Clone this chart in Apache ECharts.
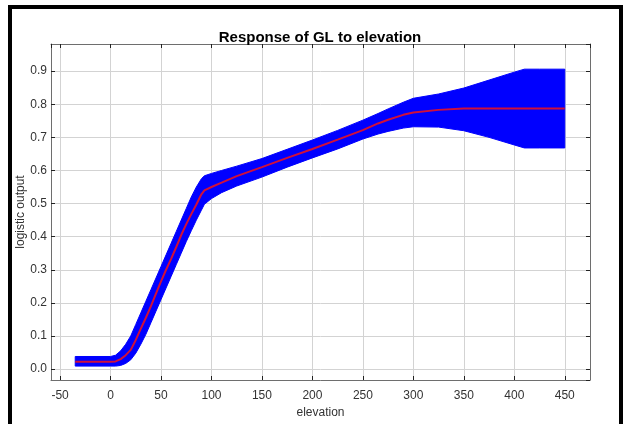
<!DOCTYPE html>
<html>
<head>
<meta charset="utf-8">
<script src="https://cdn.jsdelivr.net/npm/echarts@6/dist/echarts.min.js"></script>
<style>
html,body{margin:0;padding:0;background:#fff;}
#chart{width:624px;height:424px;}
</style>
</head>
<body>
<div id="chart"></div>
<script>
const elevation = [-35, 0, 5, 10, 15, 20, 25, 30, 35, 40, 45, 50, 55, 60, 65, 70, 75, 80, 85, 90, 93, 100, 110, 125, 150, 175, 200, 225, 250, 265, 275, 290, 300, 325, 350, 375, 400, 410, 425, 450];
const meanOutput = [0.022, 0.022, 0.023, 0.03, 0.042, 0.058, 0.088, 0.122, 0.155, 0.19, 0.228, 0.265, 0.3, 0.333, 0.368, 0.405, 0.438, 0.468, 0.497, 0.528, 0.54, 0.55, 0.563, 0.583, 0.61, 0.638, 0.665, 0.693, 0.722, 0.742, 0.753, 0.768, 0.775, 0.783, 0.787, 0.787, 0.787, 0.787, 0.787, 0.787];
const upperOutput = [0.038, 0.038, 0.042, 0.055, 0.075, 0.1, 0.135, 0.17, 0.205, 0.24, 0.275, 0.31, 0.345, 0.38, 0.415, 0.45, 0.485, 0.52, 0.55, 0.575, 0.584, 0.591, 0.6, 0.613, 0.636, 0.664, 0.692, 0.721, 0.752, 0.772, 0.786, 0.806, 0.818, 0.831, 0.849, 0.873, 0.897, 0.906, 0.906, 0.906];
const lowerOutput = [0.009, 0.009, 0.009, 0.011, 0.017, 0.028, 0.048, 0.075, 0.105, 0.14, 0.175, 0.21, 0.245, 0.28, 0.315, 0.35, 0.385, 0.418, 0.45, 0.48, 0.498, 0.515, 0.533, 0.553, 0.58, 0.61, 0.638, 0.665, 0.695, 0.71, 0.718, 0.728, 0.732, 0.731, 0.72, 0.7, 0.677, 0.668, 0.668, 0.668];
const titleText = 'Response of GL to elevation';
const xName = 'elevation';
const yName = 'logistic output';

const chart = echarts.init(document.getElementById('chart'), null, {renderer: 'canvas'});
const font = 'Liberation Sans, Arial, sans-serif';
const pair = (ys) => elevation.map((x, i) => [x, ys[i]]);

const xBase = {type: 'value', min: -59, max: 475, splitNumber: 10, gridIndex: 0};
const yBase = {type: 'value', min: -0.033, max: 0.982, splitNumber: 10, gridIndex: 0};

function renderBand(params, api) {
  const pts = [];
  for (let i = 0; i < elevation.length; i++) pts.push(api.coord([elevation[i], upperOutput[i]]));
  for (let i = elevation.length - 1; i >= 0; i--) pts.push(api.coord([elevation[i], lowerOutput[i]]));
  return {
    type: 'polygon',
    shape: {points: pts},
    style: {fill: '#0000ff', stroke: '#0000ff', lineWidth: 1}
  };
}

chart.setOption({
  backgroundColor: '#ffffff',
  animation: false,
  title: {
    text: titleText, left: 315, top: 25, textAlign: 'center',
    textStyle: {fontFamily: font, fontSize: 15, fontWeight: 'bold', color: '#000'}
  },
  grid: {left: 51, right: 34, top: 44, bottom: 41, show: false},
  xAxis: [
    Object.assign({}, xBase, {
      position: 'bottom', name: xName, nameLocation: 'middle', nameGap: 27, nameMoveOverlap: false,
      nameTextStyle: {fontFamily: font, fontSize: 12, color: '#333'},
      axisLine: {show: true, onZero: false, lineStyle: {color: '#6e6e6e', width: 1}},
      axisTick: {show: true, inside: true, length: 4, lineStyle: {color: '#222'}},
      axisLabel: {show: true, margin: 10, fontFamily: font, fontSize: 12, color: '#333', showMinLabel: false, showMaxLabel: false},
      splitLine: {show: true, lineStyle: {color: '#d3d3d3', width: 1}}
    }),
    Object.assign({}, xBase, {
      position: 'top',
      axisLine: {show: true, onZero: false, lineStyle: {color: '#6e6e6e', width: 1}},
      axisTick: {show: true, inside: true, length: 4, lineStyle: {color: '#222'}},
      axisLabel: {show: false}, splitLine: {show: false}
    })
  ],
  yAxis: [
    Object.assign({}, yBase, {
      position: 'left', name: yName, nameLocation: 'middle', nameGap: 24, nameMoveOverlap: false,
      nameTextStyle: {fontFamily: font, fontSize: 12, color: '#333'},
      axisLine: {show: true, onZero: false, lineStyle: {color: '#6e6e6e', width: 1}},
      axisTick: {show: true, inside: true, length: 4, lineStyle: {color: '#222'}},
      axisLabel: {show: true, margin: 4, fontFamily: font, fontSize: 12, color: '#333', showMinLabel: false, showMaxLabel: false,
        formatter: (v) => v.toFixed(1)},
      splitLine: {show: true, lineStyle: {color: '#d3d3d3', width: 1}}
    }),
    Object.assign({}, yBase, {
      position: 'right',
      axisLine: {show: true, onZero: false, lineStyle: {color: '#6e6e6e', width: 1}},
      axisTick: {show: true, inside: true, length: 4, lineStyle: {color: '#222'}},
      axisLabel: {show: false}, splitLine: {show: false}
    })
  ],
  series: [
    {
      name: 'band', type: 'custom', xAxisIndex: 0, yAxisIndex: 0,
      renderItem: renderBand, data: [[elevation[0], upperOutput[0]]], silent: true, z: 2
    },
    {
      name: 'mean', type: 'line', data: pair(meanOutput),
      xAxisIndex: 0, yAxisIndex: 0, showSymbol: false, symbol: 'none',
      lineStyle: {width: 2, color: '#d0103a'}, z: 5, silent: true
    }
  ],
  graphic: [{
    type: 'rect', z: 100, silent: true,
    shape: {x: 10, y: 7, width: 611, height: 440},
    style: {fill: 'none', stroke: '#000', lineWidth: 4}
  }]
});
</script>
</body>
</html>
